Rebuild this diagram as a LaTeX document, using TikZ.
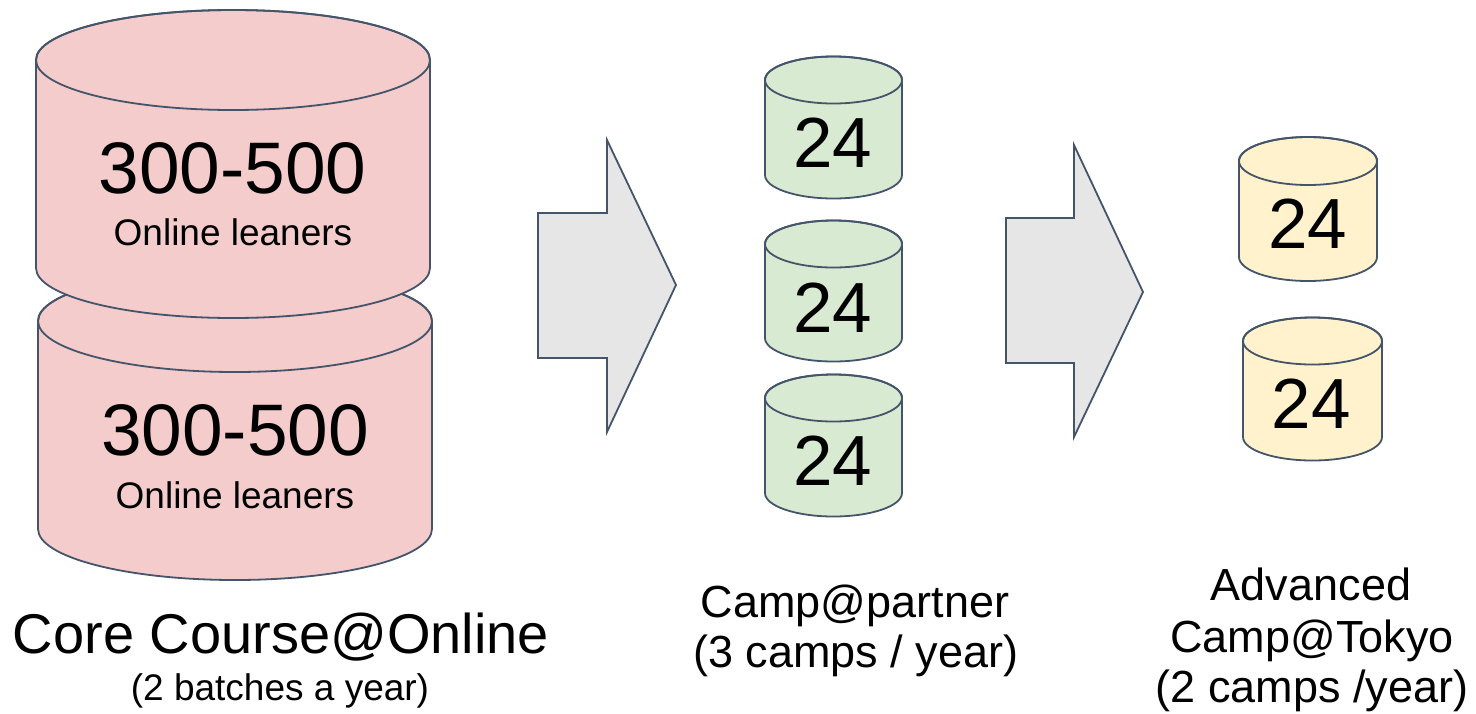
\documentclass[tikz,border=0pt]{standalone}
\usepackage{fontspec}
\setmainfont{Liberation Sans}
\definecolor{edgec}{HTML}{44546A}
\definecolor{pinkc}{HTML}{F4CCCC}
\definecolor{greenc}{HTML}{D9EAD3}
\definecolor{yellowc}{HTML}{FFF2CC}
\definecolor{arrowc}{HTML}{E6E6E6}
\newcommand\mycyl[6]{%
  \filldraw[cylline, fill=#6] (#1-#4,#2) -- (#1-#4,#3)
    arc[start angle=180, end angle=0, x radius=#4, y radius=#5]
    -- (#1+#4,#2)
    arc[start angle=0, end angle=-180, x radius=#4, y radius=#5] -- cycle;
  \draw[cylline] (#1,#2) ellipse[x radius=#4, y radius=#5];
}
\begin{document}
\begin{tikzpicture}[x=1pt,y=-1pt,
  cylline/.style={draw=edgec, line width=1.8pt},
  blockarrow/.style={draw=edgec, line width=1.8pt, fill=arrowc, line join=miter},
  bigtxt/.style={anchor=base, inner sep=0pt, font=\fontsize{73}{80}\selectfont},
  numtxt/.style={anchor=base, inner sep=0pt, font=\fontsize{71}{80}\selectfont},
  smalltxt/.style={anchor=base, inner sep=0pt, font=\fontsize{37}{44}\selectfont},
  labtxt/.style={anchor=base, inner sep=0pt, font=\fontsize{45}{54}\selectfont},
  biglab/.style={anchor=base, inner sep=0pt, font=\fontsize{56}{64}\selectfont}]
\useasboundingbox (0,0) rectangle (1476,713);
% pink cylinders
\mycyl{235}{321}{529}{197}{51}{pinkc}
\mycyl{233}{60}{268}{197}{50}{pinkc}
\node[bigtxt] (p1n) at (232.5,193) {300-500};
\node[smalltxt] (p1t) at (233,245) {Online leaners};
\node[bigtxt] (p2n) at (235,455) {300-500};
\node[smalltxt] (p2t) at (235,508) {Online leaners};
% arrows
\path[blockarrow] (538,213) -- (607,213) -- (607,140) -- (676,285) -- (607,432) -- (607,358) -- (538,358) -- cycle;
\path[blockarrow] (1006,218) -- (1074,218) -- (1074,145) -- (1143,292) -- (1074,437) -- (1074,363) -- (1006,363) -- cycle;
% green cylinders
\mycyl{833.5}{80}{175}{68.5}{23.5}{greenc}
\mycyl{833.5}{244}{338}{68.5}{23.5}{greenc}
\mycyl{833.5}{398}{493}{68.5}{23.5}{greenc}
\node[numtxt] (g1) at (832.5,167) {24};
\node[numtxt] (g2) at (832.5,332) {24};
\node[numtxt] (g3) at (832.5,485) {24};
% yellow cylinders
\mycyl{1308}{161}{257}{69}{24}{yellowc}
\mycyl{1312.5}{341}{437}{69.5}{23.5}{yellowc}
\node[numtxt] (y1) at (1307.5,248) {24};
\node[numtxt] (y2) at (1311,428) {24};
% labels
\node[biglab] (l1a) at (281,653) {Core Course@Online};
\node[smalltxt] (l1b) at (280,700) {(2 batches a year)};
\node[labtxt] (l2a) at (855,617) {Camp@partner};
\node[labtxt] (l2b) at (856,667) {(3 camps / year)};
\node[labtxt] (l3a) at (1311,600) {Advanced};
\node[labtxt] (l3b) at (1312,652) {Camp@Tokyo};
\node[labtxt] (l3c) at (1312,702) {(2 camps /year)};
\end{tikzpicture}
\end{document}
